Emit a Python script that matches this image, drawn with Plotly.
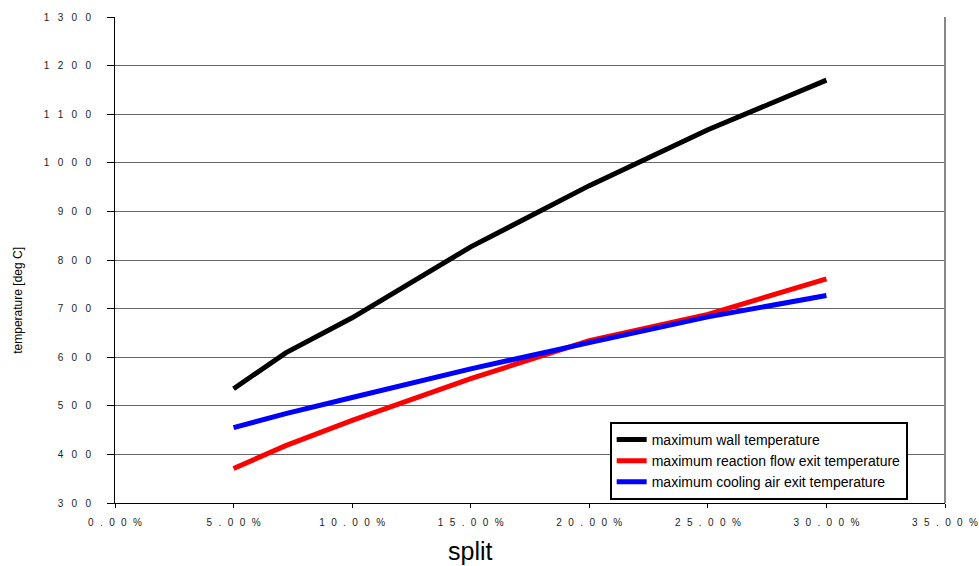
import plotly.graph_objects as go

split_pct = [5.0, 7.2, 10.0, 15.0, 20.0, 25.0, 30.0]
wall_temp = [535, 609, 681, 827, 953, 1068, 1170]
reaction_temp = [371, 418, 470, 556, 634, 688, 761]
cooling_temp = [455, 484, 517, 576, 630, 683, 727]

series_names = ["maximum wall temperature",
                "maximum reaction flow exit temperature",
                "maximum cooling air exit temperature"]
series_colors = ["#000000", "#ff0000", "#0000ff"]

y_tick_vals = [300, 400, 500, 600, 700, 800, 900, 1000, 1100, 1200, 1300]
x_tick_vals = [0, 5, 10, 15, 20, 25, 30, 35]
y_tick_raw = ["300", "400", "500", "600", "700", "800", "900", "1000", "1100", "1200", "1300"]
x_tick_raw = ["0.00%", "5.00%", "10.00%", "15.00%", "20.00%", "25.00%", "30.00%", "35.00%"]

def spaced(s, gap):
    return gap.join(list(s))

y_tick_text = [spaced(t, "\u00a0\u00a0\u00a0") for t in y_tick_raw]
x_tick_text = [spaced(t, "\u00a0\u00a0\u200a") for t in x_tick_raw]

fig = go.Figure()
for name, ys, col in zip(series_names, [wall_temp, reaction_temp, cooling_temp], series_colors):
    fig.add_trace(go.Scatter(x=split_pct, y=ys, mode="lines", name=name,
                             line=dict(color=col, width=5)))

font_fam = "Liberation Sans, Arial, sans-serif"
fig.update_layout(
    width=979, height=566,
    margin=dict(l=115, r=34, t=17, b=63),
    plot_bgcolor="white", paper_bgcolor="white",
    font=dict(family=font_fam, color="#222"),
    showlegend=True,
    legend=dict(x=0.596, y=0.167, xanchor="left", yanchor="top",
                bordercolor="black", borderwidth=2, bgcolor="white",
                font=dict(size=14, color="#000"), itemwidth=30,
                tracegroupgap=0),
    annotations=[
        dict(text="split", xref="paper", yref="paper", x=0.428, y=-0.098,
             xanchor="center", yanchor="middle", showarrow=False,
             font=dict(size=25, color="#000")),
        dict(text="temperature [deg C]", xref="paper", yref="paper",
             x=-0.117, y=0.418, xanchor="center", yanchor="middle",
             textangle=-90, showarrow=False,
             font=dict(size=12, color="#000")),
    ],
)
fig.update_xaxes(
    range=[0, 35], tickvals=x_tick_vals, ticktext=x_tick_text,
    showgrid=False, zeroline=False, automargin=False,
    showline=True, linecolor="black", linewidth=1,
    ticks="outside", ticklen=4, tickcolor="black",
    ticklabelstandoff=6,
    tickfont=dict(size=10, color="#222"),
)
fig.update_yaxes(
    range=[300, 1300], tickvals=y_tick_vals, ticktext=y_tick_text,
    showgrid=True, gridcolor="#666", gridwidth=1, zeroline=False, automargin=False,
    showline=True, linecolor="black", linewidth=1,
    ticks="outside", ticklen=7, tickcolor="black",
    ticklabelstandoff=14,
    tickfont=dict(size=10, color="#222"),
)
# right border of plot area
fig.add_shape(type="line", xref="paper", yref="paper", x0=1, x1=1, y0=0, y1=1,
              line=dict(color="#888", width=2))

fig.write_html("out.html", config={"displayModeBar": False},
               post_script="document.body.style.margin='0';document.body.style.overflow='hidden';")
